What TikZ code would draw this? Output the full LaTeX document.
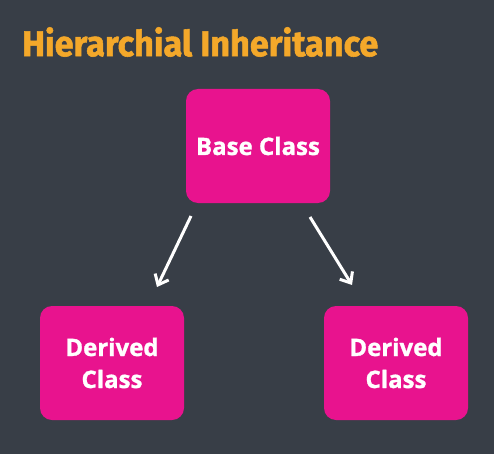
\documentclass[tikz,border=0pt]{standalone}
\usepackage{fontspec}
\setmainfont{Open Sans}[BoldFeatures={FakeBold=1.2}]
\newfontfamily\titlefont[FakeBold=1.5]{Fira Sans}
\usetikzlibrary{arrows.meta}
\definecolor{bgdark}{HTML}{383E47}
\definecolor{boxpink}{HTML}{E8138E}
\definecolor{titleorange}{HTML}{F4A82A}
\tikzset{
  classbox/.style={draw=none, fill=boxpink, rounded corners=12pt,
    minimum width=144pt, minimum height=114pt, text=white,
    font=\fontsize{24}{32}\selectfont\bfseries, align=center},
  inherit/.style={draw=white, line width=3pt,
    -{Straight Barb[length=9pt,width=15pt,line width=3pt]}}
}
\begin{document}
\begin{tikzpicture}[x=1pt,y=-1pt]
  \fill[bgdark] (0,0) rectangle (494,454);
  \useasboundingbox (0,0) rectangle (494,454);
  \node[anchor=west, inner sep=0pt, text=titleorange] (title) at (22,42)
    {\resizebox{356pt}{29pt}{\titlefont\bfseries Hierarchial Inheritance}};
  \node[classbox] (base) at (258,146) {Base Class};
  \node[classbox] (left) at (112,363) {Derived\\Class};
  \node[classbox] (right) at (396,363) {Derived\\Class};
  \coordinate (ls) at (191,216);
  \coordinate (le) at (157,287);
  \coordinate (rs) at (310,217);
  \coordinate (re) at (352,285);
  \draw[inherit] (ls) -- (le);
  \draw[inherit] (rs) -- (re);
\end{tikzpicture}
\end{document}
